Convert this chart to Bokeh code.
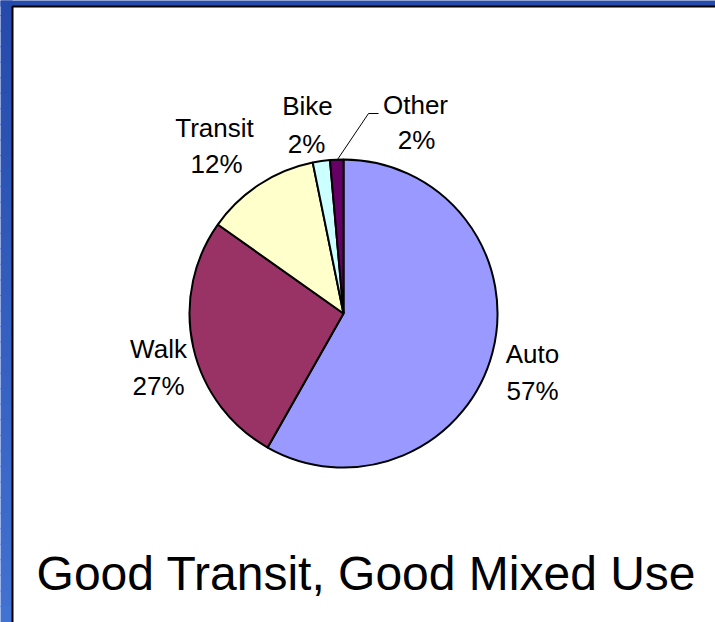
import numpy as np
from bokeh.plotting import figure
from bokeh.models import Range1d
from bokeh.embed import file_html
from bokeh.resources import INLINE
from bokeh.core.properties import value

# ---- data ----
modes = ["Auto", "Walk", "Transit", "Bike", "Other"]
shares = [58.2, 26.6, 12.0, 1.8, 1.4]
pct_labels = ["57%", "27%", "12%", "2%", "2%"]
colors = ["#9999FF", "#993366", "#FFFFCC", "#CCFFFF", "#660066"]
chart_title = "Good Transit, Good Mixed Use"

# ---- layout (pixel space, y measured from top) ----
W, H = 715, 622
CX, CY, R = 343, 313, 154
name_x = [532, 158, 214, 307, 415]
name_base = [353, 348, 127, 105, 104]
pct_x = [532, 158, 216, 306, 416]
pct_base = [390, 385, 163, 143, 139]
FONT = value("Liberation Sans")


def Y(py):
    return H - py


p = figure(width=W, height=H, x_range=Range1d(0, W), y_range=Range1d(0, H),
           output_backend="svg", toolbar_location=None, min_border=0)
p.axis.visible = False
p.grid.visible = False
p.outline_line_color = None
p.background_fill_color = "white"
p.border_fill_color = "white"

# top blue strip
p.quad(left=[-5], right=[W + 10], top=[H + 10], bottom=[Y(6)],
       fill_color="#264AAB", line_color=None)

# left blue strip gradient
n = 40
c0 = np.array([38, 74, 171])
c1 = np.array([66, 114, 210])
for i in range(n):
    t = i / (n - 1)
    c = (c0 + (c1 - c0) * t).astype(int)
    col = "#%02x%02x%02x" % tuple(c)
    top = Y(i * H / n) + 1 if i > 0 else H + 10
    bottom = Y((i + 1) * H / n) if i < n - 1 else -10
    p.quad(left=-5, right=12, top=top, bottom=bottom,
           fill_color=col, line_color=None)

# black edge of the slide panel (left and top)
p.line(x=[12, 12, W + 10], y=[-10, Y(6), Y(6)], line_color="black", line_width=2)

# pie
frac = np.array(shares) / np.sum(shares)
cum = np.concatenate([[0.0], np.cumsum(frac)])
start = np.pi / 2 - 2 * np.pi * cum[:-1]
end = np.pi / 2 - 2 * np.pi * cum[1:]
p.wedge(x=CX, y=Y(CY), radius=R, start_angle=start, end_angle=end,
        direction="clock", fill_color=colors, line_color="black", line_width=2)

# leader line for Other
p.line(x=[378, 368, 337], y=[Y(113), Y(113), Y(159)], line_color="black", line_width=1)

# labels
p.text(x=name_x, y=[Y(v) for v in name_base], text=modes, text_font=FONT,
       text_font_size="26px", text_align="center", text_baseline="alphabetic",
       text_color="black")
p.text(x=pct_x, y=[Y(v) for v in pct_base], text=pct_labels, text_font=FONT,
       text_font_size="26px", text_align="center", text_baseline="alphabetic",
       text_color="black")

# title
p.text(x=[366], y=[Y(573)], text=[chart_title], text_font=FONT,
       text_font_size="48px", text_align="center", text_baseline="alphabetic",
       text_color="black")

html = file_html(p, INLINE, title="Good Transit, Good Mixed Use")
html = html.replace("<body>", '<body style="margin:0;padding:0;overflow:hidden">', 1)
open("out.html", "w").write(html)
